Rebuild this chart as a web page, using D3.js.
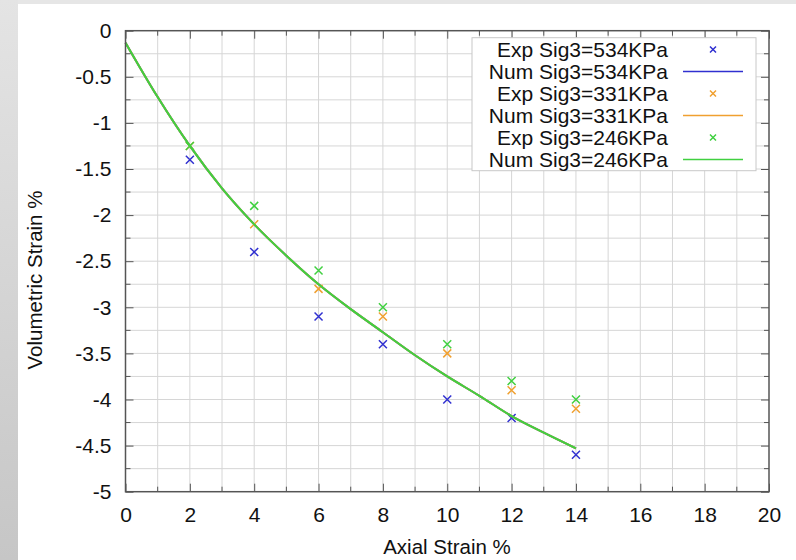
<!DOCTYPE html>
<html>
<head>
<meta charset="utf-8">
<script src="https://cdn.jsdelivr.net/npm/d3@7"></script>
<style>
  html, body { margin: 0; padding: 0; background: #ffffff; }
  svg { display: block; }
  text { font-family: "Liberation Sans", Arial, Helvetica, sans-serif; fill: #111; }
</style>
</head>
<body>
<svg id="chart" width="796" height="560"></svg>
<script>
// Triaxial test results: volumetric vs axial strain
const axialStrain = [2, 4, 6, 8, 10, 12, 14];
const exp534 = [-1.4, -2.4, -3.1, -3.4, -4.0, -4.2, -4.6];
const exp331 = [-1.25, -2.1, -2.8, -3.1, -3.5, -3.9, -4.1];
const exp246 = [-1.25, -1.9, -2.6, -3.0, -3.4, -3.8, -4.0];

const numStrain = [0, 1, 2, 3, 4, 5, 6, 7, 8, 9, 10, 11, 12, 13, 14];
const num534 = [-0.13, -0.72, -1.25, -1.71, -2.10, -2.44, -2.75, -3.02, -3.27, -3.52, -3.75, -3.96, -4.18, -4.36, -4.53];
const num331 = [-0.13, -0.72, -1.25, -1.71, -2.10, -2.44, -2.75, -3.02, -3.27, -3.52, -3.75, -3.96, -4.18, -4.36, -4.53];
const num246 = [-0.13, -0.72, -1.25, -1.71, -2.10, -2.44, -2.75, -3.02, -3.27, -3.52, -3.75, -3.96, -4.18, -4.36, -4.53];

const xTicks = [0, 2, 4, 6, 8, 10, 12, 14, 16, 18, 20];
const yTicks = [0, -0.5, -1, -1.5, -2, -2.5, -3, -3.5, -4, -4.5, -5];
const xMinor = d3.range(0, 21, 1);
const yMinor = d3.range(0, -5.001, -0.25);

const seriesNames = ["Exp Sig3=534KPa", "Num Sig3=534KPa", "Exp Sig3=331KPa",
                     "Num Sig3=331KPa", "Exp Sig3=246KPa", "Num Sig3=246KPa"];
const seriesColors = ["#3030d0", "#3030d0", "#f0a030", "#f0a030", "#40d040", "#40d040"];
const seriesKinds = ["point", "line", "point", "line", "point", "line"];
const seriesValues = [exp534, num534, exp331, num331, exp246, num246];

const svg = d3.select("#chart");
const W = 796, H = 560;

// Page backdrop: grey frame on the left and top edges
const defs = svg.append("defs");
const grad = defs.append("linearGradient").attr("id", "frameGrad")
  .attr("x1", 0).attr("y1", 0).attr("x2", 0).attr("y2", 1);
grad.append("stop").attr("offset", "0%").attr("stop-color", "#e4e4e4");
grad.append("stop").attr("offset", "100%").attr("stop-color", "#c6c6c6");
svg.append("rect").attr("width", W).attr("height", H).attr("fill", "#e6e6e6");
svg.append("rect").attr("x", 0).attr("y", 0).attr("width", 18).attr("height", H).attr("fill", "url(#frameGrad)");
svg.append("rect").attr("x", 18).attr("y", 4).attr("width", W - 18).attr("height", H - 4).attr("fill", "#ffffff");

const plotL = 125.5, plotR = 769, plotT = 30.7, plotB = 491.7;
const x = d3.scaleLinear().domain([0, 20]).range([plotL, plotR]);
const y = d3.scaleLinear().domain([0, -5]).range([plotT, plotB]);

// Grid
const grid = svg.append("g").attr("stroke", "#d6d6d6").attr("stroke-width", 1);
grid.selectAll("line.gx").data(xMinor.slice(1, -1)).join("line")
  .attr("x1", d => x(d)).attr("x2", d => x(d)).attr("y1", plotT).attr("y2", plotB);
grid.selectAll("line.gy").data(yMinor.slice(1, -1)).join("line")
  .attr("y1", d => y(d)).attr("y2", d => y(d)).attr("x1", plotL).attr("x2", plotR);

// Series
const line = d3.line().x((d, i) => x(numStrain[i])).y(d => y(d)).curve(d3.curveMonotoneX);
const cross = 4;
seriesValues.forEach((vals, k) => {
  const color = seriesColors[k];
  if (seriesKinds[k] === "line") {
    svg.append("path").datum(vals).attr("d", line)
      .attr("fill", "none").attr("stroke", color).attr("stroke-width", 2);
  } else {
    const g = svg.append("g").attr("stroke", color).attr("stroke-width", 1.5);
    vals.forEach((v, i) => {
      const cx = x(axialStrain[i]), cy = y(v);
      g.append("path").attr("d", `M${cx - cross},${cy - cross}L${cx + cross},${cy + cross}M${cx - cross},${cy + cross}L${cx + cross},${cy - cross}`);
    });
  }
});

// Axes with inward ticks
const fmt = d => String(d);
const axB = svg.append("g").attr("transform", `translate(0,${plotB})`)
  .call(d3.axisBottom(x).tickValues(xTicks).tickFormat(fmt).tickSizeInner(-8).tickSizeOuter(0).tickPadding(15));
const axL = svg.append("g").attr("transform", `translate(${plotL},0)`)
  .call(d3.axisLeft(y).tickValues(yTicks).tickFormat(fmt).tickSizeInner(-8).tickSizeOuter(0).tickPadding(14));
const axT = svg.append("g").attr("transform", `translate(0,${plotT})`)
  .call(d3.axisTop(x).tickValues(xTicks).tickFormat("").tickSizeInner(-8).tickSizeOuter(0));
const axR = svg.append("g").attr("transform", `translate(${plotR},0)`)
  .call(d3.axisRight(y).tickValues(yTicks).tickFormat("").tickSizeInner(-8).tickSizeOuter(0));
[axB, axL, axT, axR].forEach(a => {
  a.select(".domain").remove();
  a.selectAll(".tick line").attr("stroke", "#555").attr("stroke-width", 1);
  a.selectAll(".tick text").attr("font-size", 21).attr("fill", "#111")
    .attr("font-family", "Liberation Sans, Arial, sans-serif");
});

// Minor ticks on all four sides
const mt = svg.append("g").attr("stroke", "#555").attr("stroke-width", 1);
xMinor.filter(d => d % 2 !== 0).forEach(d => {
  mt.append("line").attr("x1", x(d)).attr("x2", x(d)).attr("y1", plotB).attr("y2", plotB - 5);
  mt.append("line").attr("x1", x(d)).attr("x2", x(d)).attr("y1", plotT).attr("y2", plotT + 5);
});
yMinor.filter(d => Math.abs(d * 2 - Math.round(d * 2)) > 1e-6).forEach(d => {
  mt.append("line").attr("y1", y(d)).attr("y2", y(d)).attr("x1", plotL).attr("x2", plotL + 5);
  mt.append("line").attr("y1", y(d)).attr("y2", y(d)).attr("x1", plotR).attr("x2", plotR - 5);
});

// Plot border
svg.append("rect").attr("x", plotL).attr("y", plotT).attr("width", plotR - plotL).attr("height", plotB - plotT)
  .attr("fill", "none").attr("stroke", "#555").attr("stroke-width", 1.5);

// Axis titles
svg.append("text").attr("x", 447).attr("y", 554).attr("text-anchor", "middle")
  .attr("font-size", 20.5).text("Axial Strain %");
svg.append("text").attr("transform", "translate(42,280) rotate(-90)").attr("text-anchor", "middle")
  .attr("font-size", 20.5).text("Volumetric Strain %");

// Legend
const lg = svg.append("g");
lg.append("rect").attr("x", 472).attr("y", 37.7).attr("width", 284).attr("height", 133)
  .attr("fill", "#ffffff").attr("stroke", "#c8c8c8").attr("stroke-width", 1);
seriesNames.forEach((name, k) => {
  const cy = 49.5 + k * 22;
  lg.append("text").attr("x", 668).attr("y", cy + 7.5).attr("text-anchor", "end")
    .attr("font-size", 21).text(name);
  if (seriesKinds[k] === "line") {
    lg.append("line").attr("x1", 683).attr("x2", 743).attr("y1", cy).attr("y2", cy)
      .attr("stroke", seriesColors[k]).attr("stroke-width", 1.5);
  } else {
    const c = 3;
    lg.append("path").attr("d", `M${713 - c},${cy - c}L${713 + c},${cy + c}M${713 - c},${cy + c}L${713 + c},${cy - c}`)
      .attr("stroke", seriesColors[k]).attr("stroke-width", 1.5);
  }
});
</script>
</body>
</html>
